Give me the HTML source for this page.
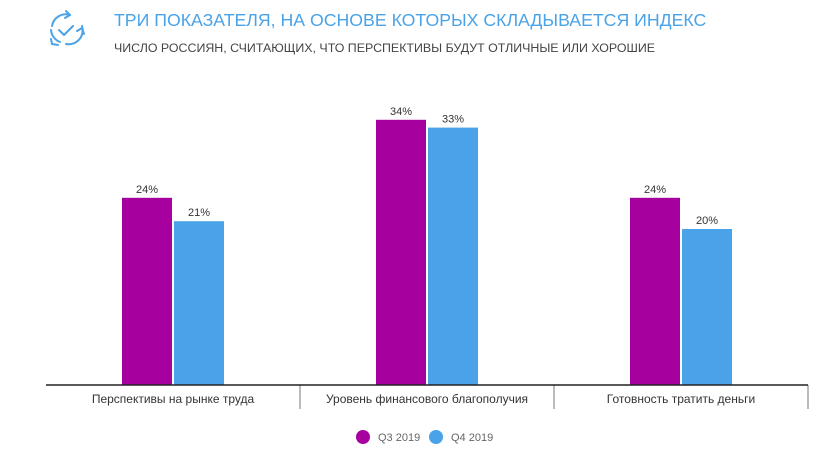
<!DOCTYPE html>
<html><head><meta charset="utf-8"><style>
body{margin:0;background:#fff;width:831px;height:455px;overflow:hidden;font-family:"Liberation Sans",sans-serif}
</style></head><body>
<svg width="831" height="455" style="position:absolute;left:0;top:0">
<g fill="none" stroke="#4aa3e8" stroke-width="2" stroke-linecap="round" stroke-linejoin="round">
<path d="M52 26 A14 14 0 0 1 70 15"/><path d="M66 11 L70 15 L65 18"/>
<path d="M82 26 A14 14 0 0 1 66 44"/><path d="M84 34 L82 28 L77 31"/>
<path d="M60 42 A14 14 0 0 1 51 30"/><path d="M51 39 L52 44 L58 45"/>
<path d="M59 30 L64 35 L73 26"/>
</g>
<text x="114" y="26" font-size="17.7" fill="#4aa3e8">ТРИ ПОКАЗАТЕЛЯ, НА ОСНОВЕ КОТОРЫХ СКЛАДЫВАЕТСЯ ИНДЕКС</text>
<text x="114" y="52" font-size="12.4" fill="#444">ЧИСЛО РОССИЯН, СЧИТАЮЩИХ, ЧТО ПЕРСПЕКТИВЫ БУДУТ ОТЛИЧНЫЕ ИЛИ ХОРОШИЕ</text>
<g id="plot"></g>
<g>
<circle cx="363" cy="437" r="7" fill="#a6009e"/>
<text x="378" y="441" font-size="11" fill="#666">Q3 2019</text>
<circle cx="436" cy="437" r="7" fill="#4aa3e8"/>
<text x="451" y="441" font-size="11" fill="#666">Q4 2019</text>
</g>
</svg>
<script>
const categories=["Перспективы на рынке труда","Уровень финансового благополучия","Готовность тратить деньги"];
const q3Values=[24,34,24];
const q4Values=[21,33,20];
const NS="http://www.w3.org/2000/svg";
const plot=document.getElementById('plot');
const x0=46,x1=808,base=385,pxPer=7.8;
const gw=(x1-x0)/categories.length;
function y(v){return base-v*pxPer;}
function mk(tag,attrs){const e=document.createElementNS(NS,tag);for(const k in attrs)e.setAttribute(k,attrs[k]);plot.appendChild(e);return e;}
const series=[{vals:q3Values,color:"#a6009e",off:-51,key:"q3"},{vals:q4Values,color:"#4aa3e8",off:1,key:"q4"}];
categories.forEach((c,i)=>{
  const cx=x0+gw*(i+0.5);
  series.forEach(s=>{
    const v=s.vals[i];
    const r=mk('rect',{x:cx+s.off,y:y(v),width:50,height:base-y(v),fill:s.color});
    
    
    const t=mk('text',{x:cx+s.off+25,y:y(v)-5,'font-size':11,fill:'#333','text-anchor':'middle'});
    t.textContent=v+'%';
    
    
  });
  const l=mk('text',{x:cx,y:base+18,'font-size':12,fill:'#333','text-anchor':'middle'});
  l.textContent=c;
  
  
  if(i>0){
    const tk=mk('line',{x1:x0+gw*i,x2:x0+gw*i,y1:base,y2:base+24,stroke:'#777','stroke-width':1});
    
    
  }
});
const endTick=mk('line',{x1:x1,x2:x1,y1:base,y2:base+24,stroke:'#777','stroke-width':1});


const ax=mk('line',{x1:x0,x2:x1,y1:base,y2:base,stroke:'#222','stroke-width':1.5});


</script>
</body></html>
